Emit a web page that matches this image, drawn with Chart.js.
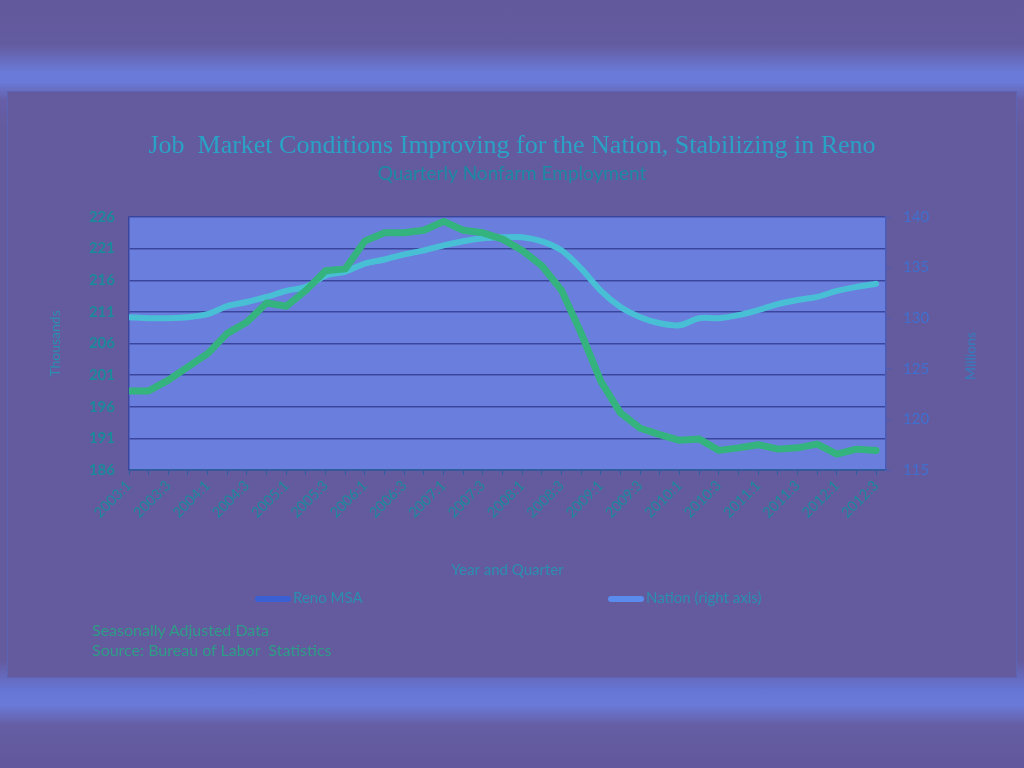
<!DOCTYPE html>
<html>
<head>
<meta charset="utf-8">
<script src="https://cdn.jsdelivr.net/npm/chart.js@4/dist/chart.umd.min.js"></script>
<style>
  html, body { margin: 0; padding: 0; }
  body { width: 1024px; height: 768px; position: relative; overflow: hidden; font-family: Lato, "Open Sans", sans-serif;
    background: linear-gradient(to bottom, #62589c 0px, #645ca0 45px, #6a7ad8 72px, #6a7ad8 82px, #665fa8 100px, #645a9e 130px, #645a9e 660px, #6676d4 690px, #6a7ad8 705px, #655ea4 725px, #62589c 768px);
  }
  #frame { position: absolute; left: 7px; top: 91px; width: 1008px; height: 585px; border: 1px solid #5b63b4; background: #645a9e; }
  #wrap { position: absolute; left: 0; top: 0; width: 1008px; height: 585px; }
  .leg { position: absolute; top: 494px; height: 22px; line-height: 22px; font-size: 15px; color: #2a8fb0; white-space: nowrap; }
  .sw { display: inline-block; width: 36px; height: 6px; border-radius: 3px; vertical-align: middle; margin-right: 2px; }
  .foot { position: absolute; left: 84px; font-size: 16px; color: #2e9c86; white-space: pre; }
  #millions { position: absolute; left: 962px; top: 264px; width: 0; height: 0; }
  #millions span { position: absolute; left: 0; top: 0; transform: translate(-50%, -50%) rotate(-90deg); font-size: 14px; color: #2f7fc0; white-space: nowrap; }
</style>
</head>
<body>
<div id="frame">
  <div id="wrap"><canvas id="c"></canvas></div>
  <div id="legend"></div>
  <div id="millions"><span>Millions</span></div>
  <div class="foot" style="top:528px">Seasonally Adjusted Data</div>
  <div class="foot" style="top:548px">Source: Bureau of Labor  Statistics</div>
</div>
<script>
const quarters = ['2003:1','2003:2','2003:3','2003:4','2004:1','2004:2','2004:3','2004:4',
  '2005:1','2005:2','2005:3','2005:4','2006:1','2006:2','2006:3','2006:4',
  '2007:1','2007:2','2007:3','2007:4','2008:1','2008:2','2008:3','2008:4',
  '2009:1','2009:2','2009:3','2009:4','2010:1','2010:2','2010:3','2010:4',
  '2011:1','2011:2','2011:3','2011:4','2012:1','2012:2','2012:3'];
const renoMSA = [198.5,198.5,200.2,202.3,204.4,207.6,209.4,212.4,211.9,214.4,
  217.5,217.8,222.2,223.5,223.5,223.9,225.3,223.9,223.5,222.5,
  220.7,218.3,214.4,207.6,200.0,195.0,192.6,191.6,190.7,190.9,
  189.1,189.5,190.0,189.3,189.5,190.1,188.5,189.3,189.1];
const nation = [130.1,130.0,130.0,130.1,130.4,131.2,131.6,132.1,132.7,133.1,
  134.2,134.6,135.4,135.8,136.3,136.7,137.2,137.6,137.9,138.0,
  138.0,137.6,136.7,134.9,132.7,131.1,130.1,129.5,129.3,130.0,
  130.0,130.3,130.8,131.4,131.8,132.1,132.7,133.1,133.4];
const leftTicks = [186,191,196,201,206,211,216,221,226];
const rightTicks = [115,120,125,130,135,140];

const seriesNames = ['Reno MSA', 'Nation (right axis)'];
const seriesColors = ['#35b37f', '#49bfd6'];
const legendColors = ['#3a60d4', '#5a8cee'];

const plotBg = {
  id: 'plotBg',
  beforeDraw(chart) {
    const {ctx, chartArea: a} = chart;
    ctx.save();
    ctx.fillStyle = '#6a7edd';
    ctx.fillRect(a.left, a.top, a.right - a.left, a.bottom - a.top);
    ctx.restore();
  }
};

const chart = new Chart(document.getElementById('c'), {
  type: 'line',
  data: {
    datasets: [
      {
        label: seriesNames[0],
        data: renoMSA.map((v, i) => ({x: i, y: v})),
        borderColor: seriesColors[0],
        backgroundColor: seriesColors[0],
        borderWidth: 7,
        pointRadius: 0,
        tension: 0,
        borderCapStyle: 'round',
        borderJoinStyle: 'round',
        yAxisID: 'y'
      },
      {
        label: seriesNames[1],
        data: nation.map((v, i) => ({x: i, y: v})),
        borderColor: seriesColors[1],
        backgroundColor: seriesColors[1],
        borderWidth: 6,
        pointRadius: 0,
        tension: 0.3,
        borderCapStyle: 'round',
        yAxisID: 'y1'
      }
    ]
  },
  options: {
    responsive: true,
    maintainAspectRatio: false,
    animation: false,
    layout: { padding: { top: 0, left: 0, right: 0, bottom: 97 } },
    plugins: {
      legend: { display: false },
      tooltip: { enabled: false },
      title: {
        display: true,
        text: 'Job  Market Conditions Improving for the Nation, Stabilizing in Reno',
        color: '#2aa2c6',
        font: { family: '"Liberation Serif", "DejaVu Serif", serif', size: 26, weight: 'normal' },
        padding: { top: 39, bottom: 0 }
      },
      subtitle: {
        display: true,
        text: 'Quarterly Nonfarm Employment',
        color: '#1b8aa2',
        font: { family: 'Lato, sans-serif', size: 19 },
        padding: { top: 0, bottom: 32 }
      }
    },
    scales: {
      x: {
        type: 'linear',
        min: 0,
        max: 38.5,
        afterFit(s) { s.height = 110; },
        afterBuildTicks(s) { s.ticks = quarters.map((q, i) => ({value: i})); },
        ticks: {
          autoSkip: false,
          maxRotation: 45,
          minRotation: 45,
          color: '#1d8a9c',
          font: { family: 'Lato, sans-serif', size: 14.5 },
          padding: 2,
          callback: (v) => (Number.isInteger(v) && v % 2 === 0) ? quarters[v] : ''
        },
        grid: { display: true, drawOnChartArea: false, color: '#2b5f9e', tickLength: 5 },
        border: { display: true, color: '#2b5f9e', width: 1.5 },
        title: {
          display: true,
          text: 'Year and Quarter',
          color: '#2a8fb0',
          font: { family: 'Lato, sans-serif', size: 15 },
          padding: { top: 0, bottom: 1 }
        }
      },
      y: {
        position: 'left',
        min: 186,
        max: 226,
        afterFit(s) { s.width = 121; },
        afterBuildTicks(s) { s.ticks = leftTicks.map(v => ({value: v})); },
        ticks: {
          color: '#1b8a9a',
          font: { family: 'Lato, sans-serif', size: 15, weight: 'bold' },
          padding: 14
        },
        grid: { color: '#3a469e', lineWidth: 1.5, drawTicks: false },
        border: { display: true, color: '#3a469e', width: 1.5 },
        title: {
          display: true,
          text: 'Thousands',
          color: '#2a8fb0',
          font: { family: 'Lato, sans-serif', size: 14 },
          padding: { top: 39, bottom: 0 }
        }
      },
      y1: {
        position: 'right',
        min: 115,
        max: 140,
        afterFit(s) { s.width = 130; },
        afterBuildTicks(s) { s.ticks = rightTicks.map(v => ({value: v})); },
        ticks: {
          color: '#3f70cf',
          font: { family: 'Lato, sans-serif', size: 15 },
          padding: 12
        },
        grid: { drawOnChartArea: false, color: '#4a5cb8', tickLength: 5 },
        border: { display: true, color: '#4a5cb8', width: 1.5 },
        title: { display: false }
      }
    }
  },
  plugins: [plotBg]
});

// HTML legend built from the chart's datasets
const legendLefts = [247, 600];
const legend = document.getElementById('legend');
chart.data.datasets.forEach((ds, i) => {
  const d = document.createElement('div');
  d.className = 'leg';
  d.style.left = legendLefts[i] + 'px';
  const sw = document.createElement('span');
  sw.className = 'sw';
  sw.style.background = legendColors[i];
  d.appendChild(sw);
  d.appendChild(document.createTextNode(ds.label));
  legend.appendChild(d);
});
</script>
</body>
</html>
